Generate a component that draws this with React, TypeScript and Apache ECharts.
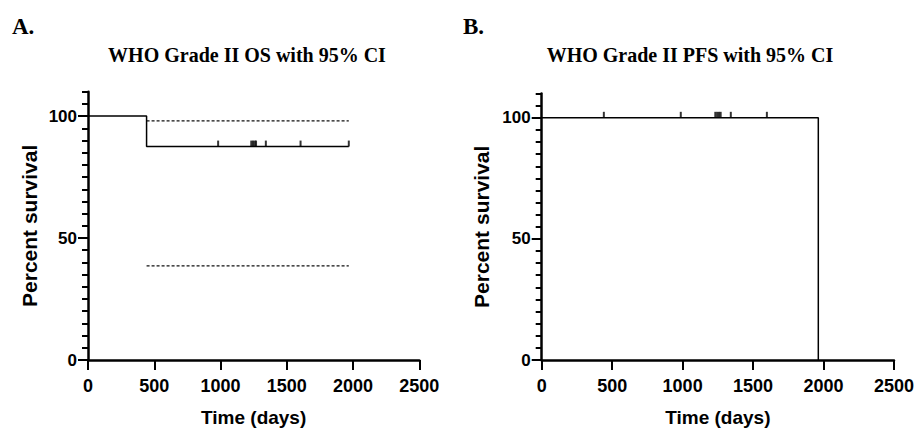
import React, { useEffect, useRef } from "react";
import * as echarts from "echarts";

// ---- Data ----
const osTime = [0, 442, 1968];
const osSurvival = [100, 87.5, 87.5];
const osCensorTime = [982, 1232, 1245, 1258, 1268, 1342, 1604, 1968];
const osCensorSurvival = [87.5, 87.5, 87.5, 87.5, 87.5, 87.5, 87.5, 87.5];
const osCiTime = [442, 1968];
const osCiUpper = [98, 98];
const osCiLower = [38.6, 38.6];

const pfsTime = [0, 1963];
const pfsSurvival = [100, 0];
const pfsCensorTime = [441, 987, 1232, 1245, 1258, 1270, 1342, 1598];
const pfsCensorSurvival = [100, 100, 100, 100, 100, 100, 100, 100];

const xTicks = [0, 500, 1000, 1500, 2000, 2500];
const yMajorTicks = [0, 50, 100];
const yMinorTicks = [5, 10, 15, 20, 25, 30, 35, 40, 45, 55, 60, 65, 70, 75, 80, 85, 90, 95, 105, 110];

const panelLetters = ["A.", "B."];
const panelTitles = ["WHO Grade II OS with 95% CI", "WHO Grade II PFS with 95% CI"];
const xName = "Time (days)";
const yName = "Percent survival";

const SANS = "'Liberation Sans', Arial, sans-serif";
const SERIF = "'Liberation Serif', 'Times New Roman', serif";

const zip = (xs: number[], ys: number[]) => xs.map((x, i) => [x, ys[i]]);

function xAxisFor(gridIndex: number) {
  return {
    type: "value",
    gridIndex,
    min: xTicks[0],
    max: xTicks[xTicks.length - 1],
    interval: 500,
    name: xName,
    nameLocation: "middle",
    nameGap: 48,
    nameTextStyle: { fontFamily: SANS, fontWeight: "bold", fontSize: 19, color: "#000" },
    axisLine: { show: true, lineStyle: { color: "#000", width: 2.5 } },
    axisTick: { show: true, length: 10, lineStyle: { color: "#000", width: 2 } },
    axisLabel: {
      margin: 17,
      fontFamily: SANS,
      fontWeight: "bold",
      fontSize: 18,
      color: "#000",
      formatter: (v: number) => String(v),
    },
    splitLine: { show: false },
  };
}

function yAxesFor(gridIndex: number, gap: number) {
  return [
    {
      type: "value",
      gridIndex,
      position: "left",
      min: 0,
      max: 110,
      name: yName,
      nameLocation: "middle",
      nameGap: gap,
      nameTextStyle: { fontFamily: SANS, fontWeight: "bold", fontSize: 21, color: "#000" },
      axisLine: { show: true, lineStyle: { color: "#000", width: 2.5 } },
      axisTick: { show: true, length: 10, customValues: yMajorTicks, lineStyle: { color: "#000", width: 2 } },
      axisLabel: {
        customValues: yMajorTicks,
        margin: 11,
        fontFamily: SANS,
        fontWeight: "bold",
        fontSize: 17,
        color: "#000",
        formatter: (v: number) => String(v),
      },
      splitLine: { show: false },
    },
    {
      type: "value",
      gridIndex,
      position: "left",
      min: 0,
      max: 110,
      axisLine: { show: false },
      axisTick: { show: true, length: 6, customValues: yMinorTicks, lineStyle: { color: "#000", width: 2 } },
      axisLabel: { show: false },
      splitLine: { show: false },
    },
  ];
}

export default function App() {
  const ref = useRef<HTMLDivElement>(null);

  useEffect(() => {
    if (!ref.current) return;
    const chart = echarts.init(ref.current, undefined, { renderer: "svg" });

    const kmLine = { color: "#000", width: 1.5 };
    const censor = (xi: number, yi: number, xs: number[], ys: number[]) => ({
      type: "scatter",
      xAxisIndex: xi,
      yAxisIndex: yi,
      data: zip(xs, ys),
      symbol: "rect",
      symbolSize: [2, 6],
      symbolOffset: [0, -3],
      itemStyle: { color: "#000" },
      silent: true,
    });
    const ci = (data: number[][]) => ({
      type: "line",
      xAxisIndex: 0,
      yAxisIndex: 0,
      data,
      showSymbol: false,
      symbol: "none",
      lineStyle: { color: "#111", width: 1.3, type: [3, 2] },
      silent: true,
    });

    const option = {
      animation: false,
      backgroundColor: "#fff",
      grid: [
        { left: 88, top: 91.7, width: 331.3, height: 271, containLabel: false },
        { left: 541.7, top: 93.6, width: 354.3, height: 269.7, containLabel: false },
      ],
      xAxis: [xAxisFor(0), xAxisFor(1)],
      yAxis: [...yAxesFor(0, 48), ...yAxesFor(1, 50)],
      series: [
        ci(zip(osCiTime, osCiUpper)),
        ci(zip(osCiTime, osCiLower)),
        {
          type: "line",
          xAxisIndex: 0,
          yAxisIndex: 0,
          step: "end",
          data: zip(osTime, osSurvival),
          showSymbol: false,
          symbol: "none",
          lineStyle: kmLine,
          silent: true,
        },
        censor(0, 0, osCensorTime, osCensorSurvival),
        {
          type: "line",
          xAxisIndex: 1,
          yAxisIndex: 2,
          step: "end",
          data: zip(pfsTime, pfsSurvival),
          showSymbol: false,
          symbol: "none",
          lineStyle: kmLine,
          silent: true,
        },
        censor(1, 2, pfsCensorTime, pfsCensorSurvival),
      ],
      graphic: [
        { type: "text", left: 12, top: 15, style: { text: panelLetters[0], font: `bold 23px ${SERIF}`, fill: "#000" } },
        { type: "text", left: 463, top: 15, style: { text: panelLetters[1], font: `bold 23px ${SERIF}`, fill: "#000" } },
        { type: "text", x: 247, y: 55, style: { text: panelTitles[0], font: `bold 20px ${SERIF}`, fill: "#000", align: "center", verticalAlign: "middle" } },
        { type: "text", x: 690, y: 55, style: { text: panelTitles[1], font: `bold 20px ${SERIF}`, fill: "#000", align: "center", verticalAlign: "middle" } },
      ],
    };

    chart.setOption(option as any);
    return () => chart.dispose();
  }, []);

  return (
    <div
      ref={ref}
      style={{ position: "fixed", left: 0, top: 0, width: 917, height: 432, background: "#fff" }}
    />
  );
}
